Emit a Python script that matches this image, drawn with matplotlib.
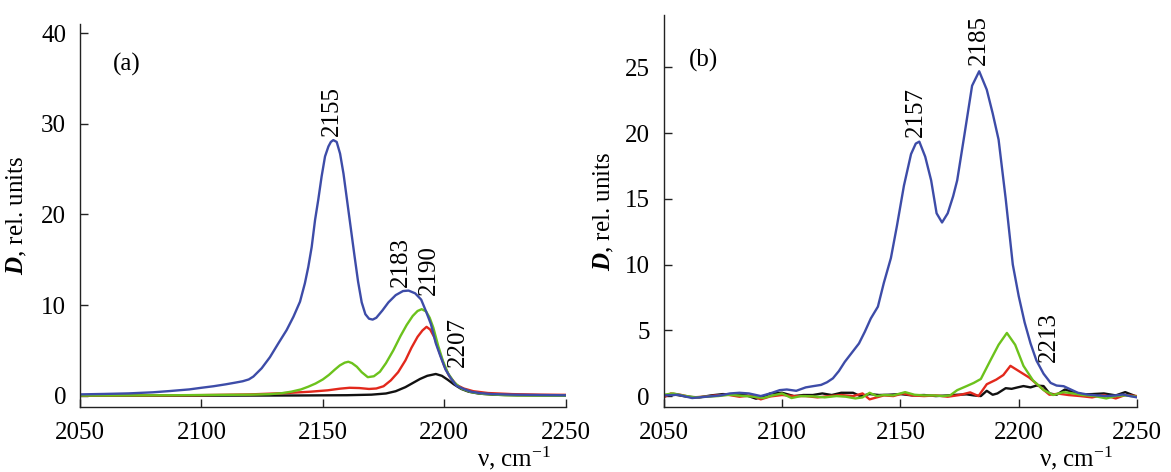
import matplotlib
matplotlib.use("Agg")
import matplotlib.pyplot as plt

plt.rcParams['font.family'] = ['Liberation Serif', 'DejaVu Serif']
plt.rcParams['mathtext.fontset'] = 'custom'
plt.rcParams['mathtext.rm'] = 'Liberation Serif'
plt.rcParams['mathtext.it'] = 'Liberation Serif:italic:bold'
plt.rcParams['mathtext.bf'] = 'Liberation Serif:bold'

# ---------------- data: panel (a) ----------------
a_blue_x = [2050, 2060, 2070, 2080, 2087, 2095, 2100, 2105, 2110, 2114, 2117, 2119.5, 2121.4, 2124.8,
            2128.2, 2131.7, 2135.1, 2137.9, 2140.6, 2142.6, 2144, 2145.4, 2146.8, 2148.1, 2149.5,
            2150.9, 2152.3, 2153.3, 2154.3, 2155.7, 2157.1, 2158.5, 2160, 2161.5, 2163, 2164.5,
            2166, 2167.5, 2169, 2170.5, 2172, 2174.5, 2177, 2180, 2183, 2185.3, 2188, 2190.5,
            2192.5, 2194.5, 2196.5, 2198.5, 2200.5, 2202.5, 2205, 2208, 2211, 2215, 2220, 2228,
            2240, 2250]
a_blue_y = [0.15, 0.2, 0.26, 0.38, 0.52, 0.7, 0.88, 1.05, 1.26, 1.45, 1.6, 1.8, 2.12, 3.03,
            4.25, 5.79, 7.25, 8.72, 10.38, 12.4, 14.2, 16.4, 19.4, 21.6, 24.2,
            26.4, 27.5, 28.0, 28.2, 28.0, 26.7, 24.5, 21.5, 18.5, 15.5, 12.6,
            10.3, 9.0, 8.5, 8.4, 8.6, 9.4, 10.3, 11.1, 11.55, 11.6, 11.3, 10.6,
            9.3, 7.9, 5.8, 4.3, 2.9, 2.0, 1.1, 0.75, 0.45, 0.28, 0.18, 0.12,
            0.08, 0.05]

a_green_x = [2050, 2070, 2090, 2100, 2110, 2120, 2128, 2133, 2137, 2141, 2144, 2147, 2150, 2152.5,
             2155, 2157, 2159, 2160.5, 2162, 2164, 2166, 2168.5, 2171, 2173.5, 2176, 2179, 2182,
             2184.5, 2187, 2189, 2190.7, 2192.5, 2194, 2195.5, 2197.5, 2199.5, 2201.5, 2204, 2207,
             2211, 2216, 2225, 2240, 2250]
a_green_y = [0.02, 0.04, 0.06, 0.08, 0.1, 0.12, 0.17, 0.28, 0.45, 0.7, 1.0, 1.35, 1.8, 2.3,
             2.9, 3.35, 3.65, 3.75, 3.6, 3.2, 2.6, 2.05, 2.15, 2.65, 3.6, 5.0, 6.6,
             7.8, 8.8, 9.35, 9.55, 9.3, 8.6, 7.5, 5.5, 3.8, 2.5, 1.5, 0.8,
             0.4, 0.2, 0.06, 0.02, 0.01]

a_red_x = [2050, 2080, 2100, 2120, 2135, 2145, 2152, 2157, 2161, 2165, 2169, 2172, 2175, 2178, 2181,
           2184, 2186.5, 2189, 2191, 2192.7, 2194.2, 2196, 2198, 2200, 2202, 2205, 2208, 2212, 2218,
           2228, 2240, 2250]
a_red_y = [0.02, 0.04, 0.07, 0.15, 0.3, 0.45, 0.6, 0.78, 0.88, 0.85, 0.75, 0.8, 1.05, 1.7, 2.6,
           3.9, 5.3, 6.5, 7.2, 7.6, 7.3, 6.4, 4.8, 3.3, 2.2, 1.2, 0.8, 0.5, 0.3,
           0.18, 0.12, 0.1]

a_black_x = [2050, 2100, 2140, 2160, 2170, 2176, 2180, 2184, 2187, 2190, 2193, 2196.5, 2199, 2201.5,
             2204, 2207, 2210, 2214, 2220, 2230, 2250]
a_black_y = [0.0, 0.01, 0.03, 0.06, 0.12, 0.25, 0.5, 0.95, 1.4, 1.85, 2.2, 2.4, 2.2, 1.75,
             1.25, 0.75, 0.45, 0.25, 0.12, 0.05, 0.02]

# ---------------- data: panel (b) ----------------
b_blue_x = [2050, 2056, 2062, 2068, 2074, 2078, 2082, 2086, 2091, 2095, 2099, 2102, 2106, 2110, 2113,
            2116.5, 2119, 2121.5, 2124, 2126.5, 2129.5, 2132.5, 2135, 2137.5, 2140.5, 2143, 2146,
            2148.5, 2151.5, 2154.5, 2156.5, 2158, 2160.5, 2163, 2165.3, 2167.6, 2170, 2172.3, 2174,
            2177, 2180.3, 2183.3, 2186.5, 2189, 2191.5, 2194.5, 2197.5, 2200, 2202.5, 2205, 2207.5,
            2210.5, 2213.5, 2216, 2219, 2222, 2225, 2229, 2233, 2237, 2241, 2244, 2247, 2250]
b_blue_y = [0.05, 0.1, -0.15, -0.05, 0.05, 0.2, 0.25, 0.2, 0.0, 0.2, 0.45, 0.5, 0.4, 0.66, 0.75,
            0.85, 1.05, 1.35, 1.9, 2.6, 3.3, 4.0, 4.9, 5.9, 6.8, 8.6, 10.5,
            12.9, 16.0, 18.4, 19.2, 19.35, 18.2, 16.4, 13.9, 13.2, 13.9, 15.2, 16.4,
            19.8, 23.6, 24.7, 23.3, 21.5, 19.5, 15.0, 10.0, 7.6, 5.6, 4.0, 2.7,
            1.7, 1.0, 0.8, 0.75, 0.5, 0.25, 0.12, 0.05, 0.0, 0.05, 0.12, 0.0, -0.1]

b_green_x = [2050, 2054, 2058, 2063, 2068, 2073, 2078, 2083, 2088, 2092, 2096, 2100, 2104, 2108, 2113,
             2118, 2123, 2127, 2131, 2134, 2137, 2140, 2143, 2147, 2152, 2156, 2160, 2164, 2168, 2171,
             2174, 2178, 2181, 2184, 2188, 2191.5, 2195, 2198.5, 2202, 2206, 2210.5, 2214.5, 2219,
             2223, 2227, 2232, 2237, 2241, 2245, 2250]
b_green_y = [0.1, 0.2, 0.05, -0.1, -0.05, 0.0, 0.1, 0.02, -0.05, -0.15, 0.05, 0.2, -0.15, 0.0, -0.02,
             -0.1, 0.0, -0.05, -0.18, -0.1, 0.25, 0.0, 0.08, 0.05, 0.3, 0.1, 0.05, 0.05, 0.0, 0.05,
             0.45, 0.76, 1.0, 1.3, 2.7, 3.9, 4.8, 3.9, 2.3, 1.2, 0.46, 0.08, 0.3,
             0.2, 0.08, 0.0, -0.18, 0.0, 0.05, -0.05]

b_red_x = [2050, 2053, 2057, 2062, 2067, 2072, 2077, 2082, 2087, 2091, 2095, 2100, 2105, 2110, 2115,
           2120, 2125, 2130, 2134, 2137, 2140, 2143, 2147, 2151, 2155, 2160, 2165, 2170, 2175, 2179.5,
           2183, 2186.5, 2190.5, 2193.5, 2196.5, 2200.5, 2204.5, 2209, 2213, 2217, 2221, 2226, 2231,
           2236, 2241, 2245, 2250]
b_red_y = [-0.1, 0.2, 0.1, -0.1, -0.05, 0.05, 0.1, -0.05, 0.05, -0.25, -0.03, 0.08, 0.0, 0.0, -0.1,
           0.0, 0.08, 0.0, 0.2, -0.25, -0.1, 0.05, 0.0, 0.2, 0.05, 0.0, 0.05, -0.05, 0.08, 0.28,
           0.0, 0.9, 1.25, 1.6, 2.3, 1.85, 1.4, 0.7, 0.1, 0.18, 0.08, 0.0, -0.1,
           0.08, -0.18, 0.08, 0.0]

b_black_x = [2050, 2055, 2060, 2065, 2070, 2075, 2080, 2085, 2089, 2092, 2095, 2100, 2105, 2109, 2113,
             2117, 2121, 2125, 2130, 2133, 2137, 2141, 2145, 2150, 2155, 2160, 2165, 2170, 2174, 2178,
             2181, 2184, 2186.5, 2189, 2191, 2194.5, 2197, 2199.5, 2202, 2205, 2207.5, 2210.5, 2213,
             2216, 2219.5, 2223, 2227, 2231, 2236, 2241, 2245, 2250]
b_black_y = [0.0, 0.1, -0.05, -0.1, 0.05, 0.15, 0.1, 0.05, -0.2, -0.05, 0.2, 0.25, 0.0, 0.08, 0.08,
             0.2, 0.08, 0.25, 0.25, 0.0, 0.15, 0.08, 0.1, 0.15, 0.05, 0.08, 0.0, 0.05, 0.1, 0.13,
             0.05, 0.0, 0.4, 0.1, 0.2, 0.6, 0.55, 0.66, 0.76, 0.66, 0.8, 0.76, 0.2,
             0.1, 0.5, 0.3, 0.13, 0.15, 0.2, 0.05, 0.3, -0.05]

# annotations: (label, x, y)
a_labels = [("2155", 2153.8, 28.6), ("2183", 2182.2, 12.0), ("2190", 2193.6, 11.1), ("2207", 2205.4, 3.2)]
b_labels = [("2157", 2156.4, 19.7), ("2185", 2183.2, 25.2), ("2213", 2212.9, 2.6)]

x_ticks = [2050, 2100, 2150, 2200, 2250]
a_yticks = [0, 10, 20, 30, 40]
b_yticks = [0, 5, 10, 15, 20, 25]

BLUE = '#3d4ca8'
GREEN = '#6cc21c'
RED = '#e2281c'
BLACK = '#111111'
FS = 18
LW = 1.7

fig = plt.figure(figsize=(11.71, 4.72), dpi=100)
axA = fig.add_axes([0.0683, 0.1383, 0.4148, 0.8107])
axB = fig.add_axes([0.5668, 0.1383, 0.4042, 0.8297])


def style(ax, yticks, ylim):
    ax.set_xlim(2050, 2250)
    ax.set_ylim(*ylim)
    ax.set_xticks(x_ticks)
    ax.set_yticks(yticks)
    for s in ['top', 'right']:
        ax.spines[s].set_visible(False)
    for s in ['left', 'bottom']:
        ax.spines[s].set_linewidth(1.0)
        ax.spines[s].set_color('#222222')
    ax.tick_params(axis='both', direction='in', labelsize=FS, width=1.0, color='#222222')
    ax.tick_params(axis='y', length=6, pad=10)
    ax.tick_params(axis='x', length=5.5, pad=11)


style(axA, a_yticks, (-1.21, 41.0))
style(axB, b_yticks, (-0.81, 28.97))

for ax, data in [(axA, [(a_black_x, a_black_y, BLACK), (a_red_x, a_red_y, RED),
                        (a_green_x, a_green_y, GREEN), (a_blue_x, a_blue_y, BLUE)]),
                 (axB, [(b_black_x, b_black_y, BLACK), (b_red_x, b_red_y, RED),
                        (b_green_x, b_green_y, GREEN), (b_blue_x, b_blue_y, BLUE)])]:
    for xs, ys, c in data:
        ax.plot(xs, ys, color=c, lw=LW, solid_joinstyle='round')

for ax, labs in [(axA, a_labels), (axB, b_labels)]:
    for t, x, y in labs:
        ax.text(x, y, t, rotation=90, ha='center', va='bottom', fontsize=FS)

axA.text(2063.5, 36.5, "(a)", ha='left', va='center', fontsize=FS)
axB.text(2060.8, 25.55, "(b)", ha='left', va='center', fontsize=FS)

axA.set_ylabel(r"$\it{D}$, rel. units", fontsize=FS)
axA.yaxis.set_label_coords(-0.105, 0.5)
axB.set_ylabel(r"$\it{D}$, rel. units", fontsize=FS)
axB.yaxis.set_label_coords(-0.101, 0.5)

# x axis labels near the bottom right of each panel
fig.text(551 / 1171, 6 / 472, r"ν, cm$^{-1}$", ha='right', va='baseline', fontsize=FS)
fig.text(1113 / 1171, 6 / 472, r"ν, cm$^{-1}$", ha='right', va='baseline', fontsize=FS)

fig.savefig("out.png", dpi=100)
